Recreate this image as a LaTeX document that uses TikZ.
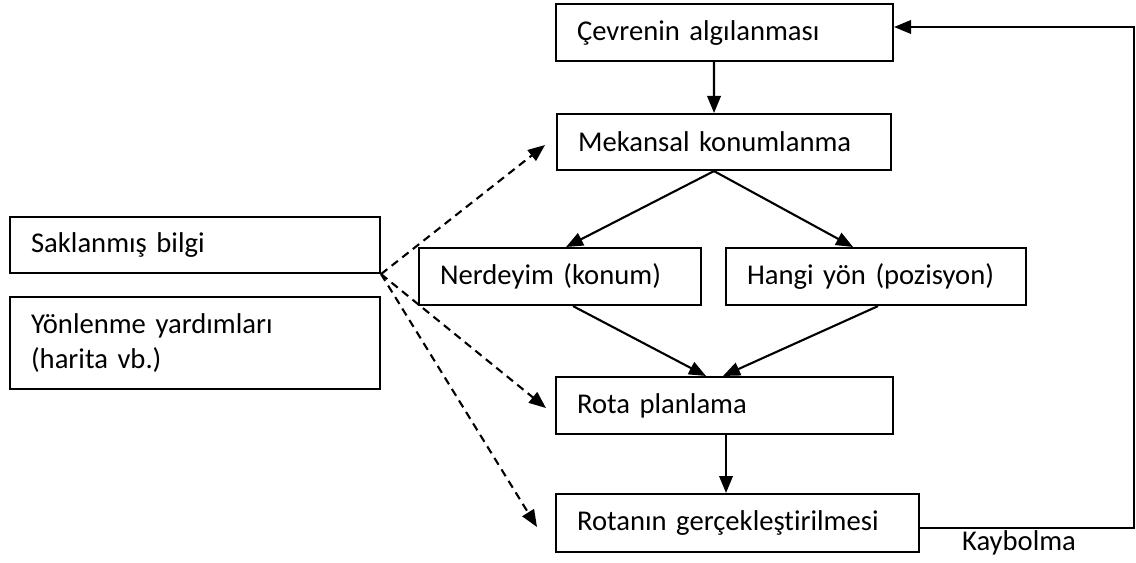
\documentclass[tikz,border=0pt]{standalone}
\usepackage{fontspec}
\setmainfont[Ligatures=NoCommon]{Carlito}
\usetikzlibrary{arrows.meta}

\begin{document}
\begin{tikzpicture}[x=0.02cm,y=-0.02cm,
    blok/.style={draw,line width=1.2pt,anchor=north west,align=left,inner xsep=0.42cm,
        font=\fontsize{16.3}{20}\selectfont},
    ok/.style={line width=1.2pt,-{Triangle[length=0.34cm,width=0.27cm]}},
    kesik/.style={ok,dash pattern=on 0.16cm off 0.11cm}]
\useasboundingbox (0,0) rectangle (1136,563);
\node[blok,text width=5.9cm,minimum height=1.14cm] (cev) at (555,3) {Çevrenin algılanması};
\node[blok,text width=5.84cm,minimum height=1.12cm] (mek) at (556,113) {Mekansal konumlanma};
\node[blok,text width=6.56cm,minimum height=1.12cm] (sak) at (9,216) {Saklanmış bilgi};
\node[blok,text width=6.56cm,minimum height=1.84cm] (yon) at (9,296) {Yönlenme yardımları\\(harita vb.)};
\node[blok,text width=4.8cm,minimum height=1.14cm] (ner) at (418,247) {Nerdeyim (konum)};
\node[blok,text width=5.16cm,minimum height=1.14cm] (han) at (725,247) {Hangi yön (pozisyon)};
\node[blok,text width=5.9cm,minimum height=1.14cm] (rota) at (555,376) {Rota planlama};
\node[blok,text width=6.42cm,minimum height=1.16cm] (rgr) at (555,493) {Rotanın gerçekleştirilmesi};
\node[font=\fontsize{16.3}{20}\selectfont] (kay) at (1019,543) {Kaybolma};
\coordinate (ust) at (1134,27);
\draw[ok] ([xshift=-0.21cm]cev.south) -- ([xshift=-0.2cm]mek.north);
\draw[ok] ([xshift=-0.2cm]mek.south) -- ([xshift=0.12cm]ner.north);
\draw[ok] ([xshift=-0.2cm]mek.south) -- ([xshift=-0.46cm]han.north);
\draw[ok] ([xshift=0.26cm]ner.south) -- ([xshift=-0.37cm]rota.north);
\draw[ok] ([xshift=0.04cm]han.south) -- ([xshift=-0.03cm]rota.north);
\draw[ok] ([xshift=0.03cm]rota.south) -- ([xshift=0.03cm]rota.south |- rgr.north);
\draw[ok] ([yshift=-0.1cm]rgr.east) -| (ust) -- (cev.east |- ust);
\draw[kesik] (sak.south east) -- ([xshift=-0.22cm,yshift=-0.06cm]mek.west);
\draw[kesik] (sak.south east) -- ([xshift=-0.18cm,yshift=-0.05cm]rota.west);
\draw[kesik] (sak.south east) -- ([xshift=-0.36cm,yshift=-0.08cm]rgr.west);
\end{tikzpicture}
\end{document}
